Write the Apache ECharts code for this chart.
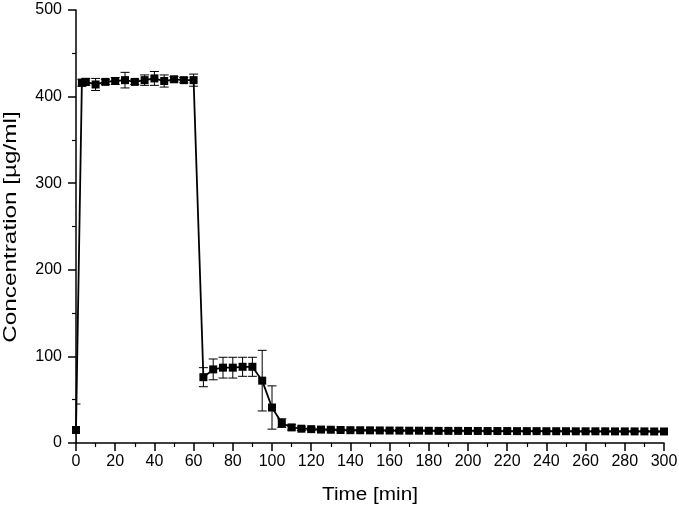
<!DOCTYPE html>
<html>
<head>
<meta charset="utf-8">
<script src="https://cdn.jsdelivr.net/npm/echarts@6/dist/echarts.min.js"></script>
<style>
html,body{margin:0;padding:0;background:#fff;}
#chart{width:679px;height:512px;}
</style>
</head>
<body>
<div id="chart"></div>
<script>
const times = [0,3,5,10,15,20,25,30,35,40,45,50,55,60,65,70,75,80,85,90,95,100,105,110,115,120,125,130,135,140,145,150,155,160,165,170,175,180,185,190,195,200,205,210,215,220,225,230,235,240,245,250,255,260,265,270,275,280,285,290,295,300];
const concentration = [15,416,417,414,417,418,419,417,419,421,418,420,419,419,76,85,87,87,88,88,72,41,23,18,16.5,16,15.5,15.3,15,14.8,14.7,14.6,14.5,14.4,14.3,14.2,14.2,14.1,14,14,14,13.9,13.9,13.8,13.8,13.8,13.7,13.7,13.7,13.6,13.6,13.6,13.5,13.5,13.5,13.5,13.4,13.4,13.4,13.4,13.3,13.3];
const errors = [30,4,4,7,3,4,9,3,6,8,7,3,3,7,11,12,12,12,11,11,35,25,5,3,2,1.5,1.5,1,1,1,1,1,1,1,1,1,1,1,1,1,1,1,1,1,1,1,1,1,1,1,1,1,1,1,1,1,1,1,1,1,1,1];
const xTitle = 'Time [min]';
const yTitle = 'Concentration [µg/ml]';

const lineData = times.map((t,i)=>[t,concentration[i]]);
const errData = times.map((t,i)=>[t,concentration[i],errors[i]]);

const chart = echarts.init(document.getElementById('chart'));
const font = 'Liberation Sans, Arial, sans-serif';
chart.setOption({
  animation:false,
  backgroundColor:'#fff',
  grid:{left:76,right:15,top:10,bottom:69,containLabel:false,outerBoundsMode:'none'},
  graphic:[
    {type:'text',x:11,y:227,rotation:Math.PI/2,scaleX:1.35,
     style:{text:yTitle,font:'18px '+font,fill:'#000',textAlign:'center',textVerticalAlign:'middle'}},
    {type:'text',x:370,y:495,scaleX:1.15,
     style:{text:xTitle,font:'18px '+font,fill:'#000',textAlign:'center',textVerticalAlign:'middle'}}
  ],
  xAxis:{
    type:'value',min:0,max:300,interval:20,
    axisLine:{show:true,onZero:false,lineStyle:{color:'#000',width:1.5}},
    axisTick:{show:true,inside:false,length:8,lineStyle:{color:'#000',width:1.5}},
    minorTick:{show:true,splitNumber:2,length:4,lineStyle:{color:'#000',width:1.2}},
    axisLabel:{fontFamily:font,fontSize:16,color:'#000',margin:11},
    splitLine:{show:false}
  },
  yAxis:{
    type:'value',min:0,max:500,interval:100,
    axisLine:{show:true,onZero:false,lineStyle:{color:'#000',width:1.5}},
    axisTick:{show:true,inside:false,length:8,lineStyle:{color:'#000',width:1.5}},
    minorTick:{show:true,splitNumber:2,length:4,lineStyle:{color:'#000',width:1.2}},
    axisLabel:{fontFamily:font,fontSize:16,color:'#000',margin:14},
    splitLine:{show:false}
  },
  series:[
    {
      type:'custom',
      clip:true,
      z:1,
      data:errData,
      renderItem:function(params,api){
        const t=api.value(0), v=api.value(1), e=api.value(2);
        const lo=api.coord([t,v-e]), hi=api.coord([t,v+e]);
        const w=4.5;
        const st={stroke:'#000',lineWidth:1};
        return {type:'group',children:[
          {type:'line',shape:{x1:lo[0],y1:lo[1],x2:hi[0],y2:hi[1]},style:st},
          {type:'line',shape:{x1:lo[0]-w,y1:lo[1],x2:lo[0]+w,y2:lo[1]},style:st},
          {type:'line',shape:{x1:hi[0]-w,y1:hi[1],x2:hi[0]+w,y2:hi[1]},style:st}
        ]};
      }
    },
    {
      type:'line',
      z:2,
      data:lineData,
      symbol:'rect',symbolSize:8,
      showSymbol:true,
      lineStyle:{color:'#000',width:1.8},
      itemStyle:{color:'#000'},
      clip:false
    }
  ]
});
</script>
</body>
</html>
